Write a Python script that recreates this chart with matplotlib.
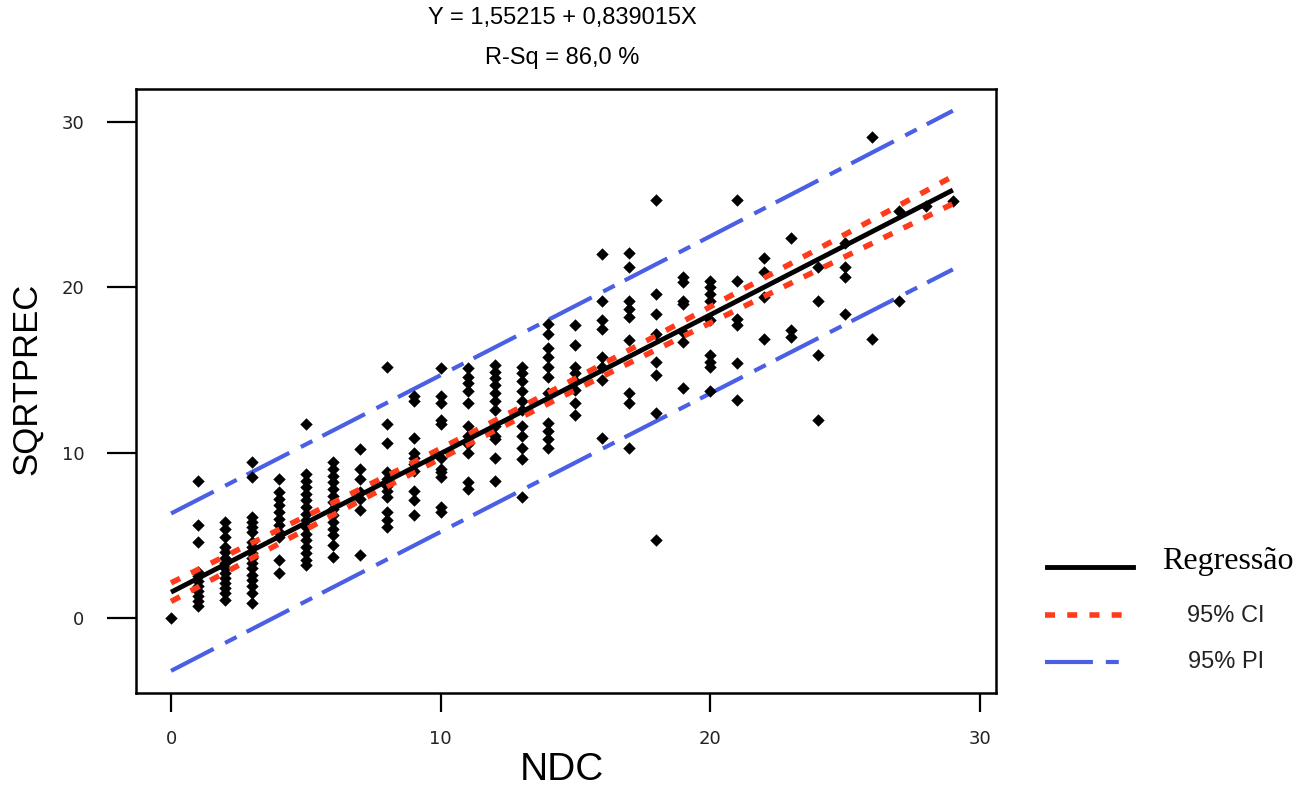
import numpy as np
import matplotlib
matplotlib.use("Agg")
import matplotlib.pyplot as plt
from matplotlib.lines import Line2D

# regression printed on the chart
b0 = 1.55215
b1 = 0.839015
eq_text = "Y = 1,55215 + 0,839015X"
rsq_text = "R-Sq = 86,0 %"
s_fit = 2.4

# SQRTPREC values read per NDC column
cols = {
    0: [0.0],
    1: [8.3, 5.6, 4.6, 2.8, 2.5, 2.2, 1.9, 1.6, 1.3, 1.0, 0.7],
    2: [5.8, 5.4, 4.9, 4.3, 4.0, 3.6, 3.3, 3.0, 2.7, 2.4, 2.1, 1.8, 1.5, 1.1],
    3: [9.4, 8.5, 6.1, 5.8, 5.5, 5.2, 4.6, 4.3, 3.9, 3.6, 3.3, 3.0, 2.6, 2.3, 1.9, 1.5, 0.9],
    4: [8.4, 7.6, 7.2, 6.8, 6.4, 6.0, 5.6, 5.2, 4.9, 3.5, 2.7],
    5: [11.7, 8.7, 8.3, 7.9, 7.5, 7.1, 6.7, 6.3, 5.9, 5.5, 5.1, 4.7, 4.3, 3.9, 3.5, 3.2],
    6: [9.4, 9.0, 8.6, 8.2, 7.8, 7.4, 7.0, 6.6, 6.2, 5.8, 5.4, 5.0, 4.4, 3.7],
    7: [10.2, 9.0, 8.4, 7.6, 7.2, 6.5, 3.8],
    8: [15.2, 11.7, 10.6, 8.8, 8.4, 8.0, 7.7, 7.3, 6.4, 5.9, 5.5],
    9: [13.4, 13.1, 10.9, 10.0, 9.7, 9.3, 8.9, 7.7, 7.1, 6.2],
    10: [15.1, 13.4, 13.0, 12.0, 11.7, 9.7, 9.0, 8.8, 8.5, 6.7, 6.4],
    11: [15.1, 14.6, 14.2, 13.7, 13.0, 11.6, 11.0, 10.5, 10.0, 8.2, 7.8],
    12: [15.3, 14.9, 14.5, 14.1, 13.6, 13.1, 12.6, 11.6, 11.0, 10.8, 9.7, 8.3],
    13: [15.2, 14.8, 14.3, 13.7, 13.1, 12.6, 11.6, 11.0, 10.3, 9.6, 7.3],
    14: [17.8, 17.2, 16.3, 15.8, 15.2, 14.6, 13.6, 11.8, 11.3, 10.8, 10.3],
    15: [17.7, 16.5, 15.2, 14.8, 14.3, 13.8, 13.0, 12.3],
    16: [22.0, 19.2, 18.0, 17.5, 15.8, 15.2, 14.4, 10.9],
    17: [22.1, 21.2, 19.2, 18.7, 18.2, 16.8, 13.6, 13.0, 10.3],
    18: [25.3, 19.6, 18.4, 17.2, 15.5, 14.7, 12.4, 4.7],
    19: [20.6, 20.3, 19.2, 19.0, 17.3, 16.7, 13.9],
    20: [20.4, 20.0, 19.6, 19.2, 18.0, 15.9, 15.5, 15.2, 13.7],
    21: [25.3, 20.4, 18.1, 17.7, 15.4, 13.2],
    22: [21.8, 20.9, 19.4, 16.9],
    23: [23.0, 17.4, 17.0],
    24: [21.2, 19.2, 15.9, 12.0],
    25: [22.7, 21.2, 20.6, 18.4],
    26: [29.1, 16.9],
    27: [24.6, 19.2],
    28: [24.9],
    29: [25.2],
}

ndc = np.array([k for k, v in cols.items() for _ in v], dtype=float)
sqrtprec = np.array([y for v in cols.values() for y in v])

# confidence / prediction bands around the printed fit
n = len(ndc)
xbar = ndc.mean()
sxx = ((ndc - xbar) ** 2).sum()
t = 1.97
xf = np.linspace(0, 29, 200)
yf = b0 + b1 * xf
se_fit = s_fit * np.sqrt(1 / n + (xf - xbar) ** 2 / sxx)
se_pred = s_fit * np.sqrt(1 + 1 / n + (xf - xbar) ** 2 / sxx)

red = "#ff3b1c"
blue = "#4a5fe4"
ci_ls = (0, (1.8, 2.2))
pi_ls = (0, (11.5, 3.1, 3.1, 2.7))

W, H = 1314, 789
fig = plt.figure(figsize=(W / 100, H / 100), dpi=100)
ax = fig.add_axes([136 / W, 1 - 693 / H, (996 - 136) / W, (693 - 89) / H])

ax.plot(xf, yf + t * se_pred, color=blue, lw=3, ls=pi_ls)
ax.plot(xf, yf - t * se_pred, color=blue, lw=3, ls=pi_ls)
ax.scatter(ndc, sqrtprec, marker="D", s=40, color="black", linewidths=0, zorder=3)
ax.plot(xf, yf + t * se_fit, color=red, lw=4, ls=ci_ls, zorder=4)
ax.plot(xf, yf - t * se_fit, color=red, lw=4, ls=ci_ls, zorder=4)
ax.plot(xf, yf, color="black", lw=3.5, zorder=5, solid_capstyle="butt")

ax.set_xlim(-1.3, 30.6)
ax.set_ylim(-4.55, 32.0)
ax.set_xticks([0, 10, 20, 30])
ax.set_yticks([0, 10, 20, 30])
for sp in ax.spines.values():
    sp.set_linewidth(1.8)
ax.tick_params(axis="y", length=21, width=1.6, pad=16, labelsize=13, labelcolor="#222222")
ax.tick_params(axis="x", length=14, width=1.6, pad=13, labelsize=13, labelcolor="#222222")

fig.text(562 / W, 1 - 18 / H, eq_text, ha="center", va="center", fontsize=17,
         family="Liberation Sans")
fig.text(562 / W, 1 - 58 / H, rsq_text, ha="center", va="center", fontsize=17,
         family="Liberation Sans")
fig.text(562 / W, 1 - 770 / H, "NDC", ha="center", va="center", fontsize=28,
         family="Liberation Sans")
fig.text(27 / W, 1 - 379 / H, "SQRTPREC", ha="center", va="center", fontsize=25,
         rotation=90, family="Liberation Sans")

# legend drawn at the right
def fy(py):
    return 1 - py / H

fig.add_artist(Line2D([1047 / W, 1133 / W], [fy(567), fy(567)], color="black", lw=3.5))
fig.add_artist(Line2D([1045 / W, 1122 / W], [fy(615), fy(615)], color=red, lw=4, ls=ci_ls))
fig.add_artist(Line2D([1045 / W, 1122 / W], [fy(662), fy(662)], color=blue, lw=3, ls=pi_ls))
fig.text(1162 / W, fy(562), "Regressão", ha="left", va="center", fontsize=23,
         family="Liberation Serif")
fig.text(1226 / W, fy(616), "95% CI", ha="center", va="center", fontsize=17,
         family="Liberation Sans", color="#222222")
fig.text(1226 / W, fy(662), "95% PI", ha="center", va="center", fontsize=17,
         family="Liberation Sans", color="#222222")

fig.savefig("out.png", dpi=100)
